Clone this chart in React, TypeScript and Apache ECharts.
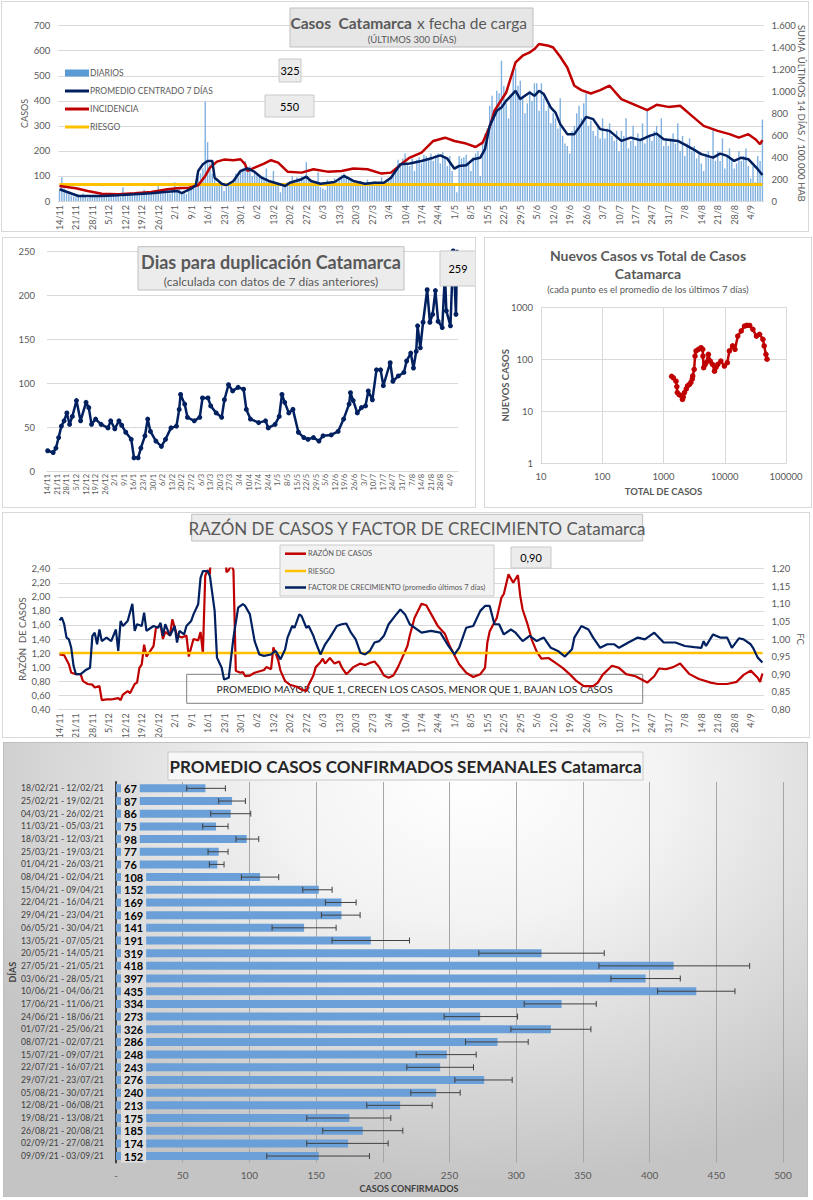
import React, { useEffect, useRef } from "react";
import * as echarts from "echarts";

// ---------- shared categories ----------
const START = Date.UTC(2020, 10, 14);
const NDAYS = 300;
const DATES: string[] = Array.from({ length: NDAYS }, (_, i) => {
  const d = new Date(START + i * 86400000);
  return `${d.getUTCDate()}/${d.getUTCMonth() + 1}`;
});

// ---------- chart 1: Casos Catamarca x fecha de carga ----------
const DIARIOS: number[] = [
  40, 95, 50, 38, 30, 22, 18,
  15, 25, 20, 30, 18, 12, 22,
  20, 18, 25, 22, 15, 20, 28,
  18, 30, 25, 20, 22, 15, 55,
  20, 28, 30, 22, 25, 30, 35,
  28, 45, 32, 25, 30, 35, 28,
  70, 40, 30, 38, 45, 30, 40,
  75, 45, 50, 30, 35, 28, 40,
  55, 62, 70, 95, 110, 130, 397,
  235, 150, 110, 90, 60, 70, 65,
  40, 55, 70, 65, 80, 110, 95,
  115, 130, 160, 125, 140, 100, 120,
  110, 95, 100, 90, 130, 80, 75,
  120, 70, 60, 35, 55, 65, 75,
  80, 100, 85, 95, 90, 100, 85,
  155, 90, 80, 70, 60, 115, 55,
  50, 45, 85, 70, 80, 90, 75,
  95, 105, 110, 100, 85, 90, 80,
  60, 75, 80, 70, 65, 85, 75,
  60, 80, 75, 70, 95, 65, 85,
  90, 100, 120, 130, 165, 150, 170,
  190, 150, 140, 170, 120, 165, 175,
  150, 185, 180, 170, 190, 160, 185,
  190, 150, 195, 175, 140, 180, 120,
  60, 35, 180, 170, 175, 185, 150,
  120, 175, 190, 200, 100, 230, 270,
  290, 380, 420, 340, 440, 430, 560,
  460, 390, 330, 420, 525, 530, 460,
  480, 420, 350, 390, 440, 400, 470,
  470, 360, 470, 410, 360, 380, 310,
  350, 330, 290, 410, 260, 230, 220,
  190, 280, 300, 350, 380, 330, 390,
  430, 300, 320, 280, 260, 300, 250,
  330, 250, 290, 310, 260, 240, 280,
  200, 280, 260, 330, 210, 240, 300,
  220, 270, 250, 310, 230, 360, 260,
  240, 280, 300, 260, 330, 220, 250,
  220, 250, 270, 230, 310, 200, 260,
  180, 230, 250, 200, 220, 170, 190,
  150, 120, 190, 200, 170, 290, 160,
  200, 160, 250, 130, 180, 210, 170,
  130, 150, 200, 160, 180, 210, 140,
  90, 140, 75, 180, 160, 325,
];

// [day index, value] – promedio centrado 7 días (left axis)
const PROMEDIO: [number, number][] = [
  [0, 47], [3, 37], [8, 20], [12, 20], [18, 20], [25, 23], [32, 27], [39, 31], [46, 37], [50, 40],
  [52, 31], [56, 49], [58, 63], [59, 120], [61, 147], [63, 160], [65, 160], [66, 93], [69, 69], [71, 63],
  [74, 80], [77, 120], [80, 130], [83, 116], [86, 93], [89, 80], [93, 69], [96, 60], [98, 73], [103, 87],
  [105, 97], [107, 80], [111, 69], [117, 76], [121, 100], [125, 80], [130, 69], [134, 73], [138, 73], [141, 93],
  [145, 147], [149, 150], [154, 160], [159, 173], [162, 182], [165, 169], [168, 129], [170, 140], [173, 143], [176, 167],
  [179, 173], [181, 207], [183, 300], [186, 360], [188, 373], [190, 400], [194, 440], [196, 407], [200, 433], [202, 420],
  [204, 440], [206, 427], [209, 373], [211, 353], [213, 307], [216, 267], [219, 267], [222, 307], [224, 336], [227, 327],
  [230, 287], [234, 280], [239, 240], [243, 253], [247, 243], [251, 260], [254, 269], [257, 247], [263, 240], [267, 220],
  [270, 204], [273, 187], [278, 173], [281, 189], [284, 180], [287, 160], [290, 173], [293, 167], [295, 147], [297, 127],
  [299, 104],
];

// [day index, value] – incidencia (right axis)
const INCIDENCIA: [number, number][] = [
  [0, 137], [3, 128], [7, 116], [12, 91], [18, 67], [25, 61], [32, 70], [39, 82], [46, 107], [50, 116],
  [55, 122], [59, 143], [62, 229], [64, 305], [67, 359], [70, 378], [74, 372], [77, 381], [79, 335], [80, 274],
  [83, 305], [87, 341], [90, 372], [93, 350], [97, 268], [103, 259], [108, 290], [114, 268], [120, 274], [125, 296],
  [131, 290], [137, 250], [141, 259], [145, 330], [149, 396], [154, 442], [159, 548], [164, 578], [168, 548], [173, 524],
  [177, 493], [180, 533], [183, 677], [185, 823], [190, 990], [194, 1265], [197, 1326], [200, 1356], [202, 1387], [204, 1433],
  [208, 1417], [210, 1401], [213, 1316], [216, 1219], [219, 1052], [222, 1012], [226, 981], [230, 1012], [234, 1052], [239, 930],
  [244, 884], [250, 829], [254, 878], [259, 859], [264, 869], [269, 777], [274, 686], [280, 640], [285, 610], [289, 578],
  [293, 610], [296, 564], [298, 518], [299, 555],
];
const RIESGO_INCIDENCIA = 150;

// ---------- chart 2: días para duplicación ----------
const DUPLICACION: [number, number][] = [
  [0, 23], [4, 21], [6, 26], [8, 38], [10, 51], [12, 57], [14, 66], [16, 53], [18, 62], [21, 80],
  [24, 57], [28, 78], [30, 72], [32, 53], [35, 59], [39, 53], [44, 49], [46, 57], [49, 48], [52, 57],
  [54, 52], [57, 44], [61, 36], [63, 15], [66, 15], [68, 26], [71, 40], [73, 59], [75, 45], [79, 34],
  [83, 28], [86, 36], [90, 49], [94, 51], [96, 70], [97, 87], [100, 76], [102, 61], [107, 57], [111, 61],
  [113, 83], [117, 83], [119, 74], [123, 66], [127, 61], [129, 81], [132, 98], [135, 91], [139, 95], [143, 93],
  [145, 70], [148, 59], [154, 55], [159, 57], [161, 49], [166, 53], [169, 62], [171, 87], [173, 78], [176, 66],
  [179, 70], [183, 44], [187, 38], [190, 36], [194, 38], [198, 34], [201, 40], [207, 41], [212, 45], [216, 59],
  [220, 76], [221, 89], [223, 80], [226, 66], [229, 72], [232, 74], [234, 91], [237, 81], [240, 115], [243, 115],
  [245, 97], [250, 123], [252, 102], [256, 108], [260, 112], [262, 125], [265, 134], [267, 117], [269, 136], [270, 165],
  [272, 140], [274, 169], [277, 206], [279, 169], [281, 178], [283, 205], [285, 170], [288, 163], [290, 225], [291, 182],
  [294, 165], [296, 250], [298, 178], [299, 259],
];

// ---------- chart 3: nuevos casos vs total ----------
// [total de casos, nuevos casos]
const NUEVOS_VS_TOTAL: [number, number][] = [
  [1358, 47], [1450, 44], [1600, 38], [1650, 30], [1680, 23], [1800, 21], [1940, 20], [2040, 17], [2100, 19], [2200, 23],
  [2350, 27], [2470, 31], [2650, 33], [2800, 36], [2950, 42], [3000, 48], [3170, 64], [3270, 115], [3400, 144], [3710, 155],
  [4100, 166], [4370, 155], [4400, 115], [4520, 69], [4750, 78], [4950, 86], [5400, 124], [5800, 92], [6300, 80], [6800, 59],
  [7200, 70], [7700, 80], [8640, 92], [9870, 74], [11000, 86], [11900, 144], [13400, 180], [14700, 155], [16300, 277], [18600, 349],
  [21000, 432], [23000, 445], [25500, 443], [28800, 373], [32900, 277], [37000, 300], [42000, 241], [44000, 180], [47000, 124], [49000, 100],
];

// ---------- chart 4: razón de casos y factor de crecimiento ----------
const RAZON: [number, number][] = [
  [0, 1.18], [2, 1.17], [4, 1.04], [5, 0.92], [7, 0.9], [9, 0.9], [10, 0.8], [12, 0.76], [14, 0.75], [15, 0.71],
  [17, 0.73], [18, 0.53], [20, 0.54], [22, 0.54], [25, 0.56], [26, 0.53], [27, 0.61], [29, 0.66], [30, 0.63], [32, 0.76],
  [33, 0.78], [34, 0.99], [35, 1.04], [36, 1.32], [37, 1.15], [40, 1.3], [41, 1.55], [43, 1.6], [44, 1.4], [45, 1.5],
  [47, 1.45], [48, 1.68], [50, 1.45], [52, 1.42], [54, 1.45], [55, 1.15], [57, 1.4], [59, 1.38], [60, 1.5], [61, 1.2],
  [62, 2.3], [63, 2.38], [64, 2.32], [65, 3.2], [66, 3.5], [68, 3.6], [70, 3.3], [71, 2.35], [72, 2.38], [73, 2.45],
  [74, 2.38], [75, 0.95], [77, 0.92], [78, 0.93], [79, 0.87], [81, 0.88], [83, 0.92], [87, 0.96], [88, 1.0], [90, 0.97],
  [91, 1.28], [93, 1.1], [94, 0.95], [96, 0.8], [98, 0.75], [101, 0.72], [103, 0.68], [105, 0.66], [106, 0.75], [108, 0.88],
  [109, 1.0], [111, 1.07], [112, 1.12], [113, 1.05], [115, 1.13], [117, 1.05], [119, 1.08], [120, 1.0], [122, 0.9], [123, 0.93],
  [125, 1.0], [128, 1.05], [130, 1.03], [132, 1.06], [134, 1.08], [136, 1.0], [138, 0.88], [140, 0.85], [142, 0.88], [144, 1.0],
  [146, 1.15], [148, 1.3], [149, 1.45], [151, 1.7], [154, 1.9], [156, 1.88], [159, 1.7], [161, 1.58], [164, 1.47], [166, 1.3],
  [168, 1.17], [170, 1.04], [173, 0.92], [176, 0.86], [179, 0.9], [181, 0.99], [182, 1.35], [183, 1.51], [186, 1.7], [188, 1.99],
  [189, 2.04], [191, 2.32], [193, 2.2], [195, 2.31], [196, 2.01], [197, 1.82], [199, 1.62], [201, 1.38], [203, 1.22], [205, 1.12],
  [208, 1.13], [211, 1.06], [214, 0.99], [217, 0.9], [220, 0.8], [223, 0.73], [227, 0.73], [229, 0.78], [231, 0.89], [235, 1.02],
  [238, 0.99], [241, 0.9], [245, 0.87], [250, 0.78], [253, 0.87], [255, 0.98], [258, 0.97], [261, 1.0], [264, 1.05], [268, 0.9],
  [272, 0.83], [277, 0.78], [280, 0.76], [284, 0.76], [288, 0.79], [291, 0.89], [294, 0.95], [297, 0.85], [298, 0.79], [299, 0.91],
];
const FACTOR: [number, number][] = [
  [0, 1.053], [1, 1.061], [2, 1.042], [3, 1.004], [4, 0.999], [5, 0.975], [6, 0.923], [7, 0.9], [9, 0.9], [11, 0.911],
  [13, 0.918], [14, 1.009], [15, 1.018], [16, 0.985], [17, 1.027], [18, 0.994], [20, 1.004], [22, 0.994], [24, 1.027], [25, 0.966],
  [26, 1.051], [27, 1.037], [29, 1.051], [31, 1.1], [32, 1.023], [33, 1.042], [35, 1.037], [36, 1.075], [37, 1.023], [40, 1.037],
  [42, 1.032], [43, 1.046], [44, 1.009], [45, 1.042], [47, 1.009], [49, 1.037], [50, 0.99], [51, 1.023], [53, 1.013], [54, 1.037],
  [56, 1.051], [57, 1.07], [59, 1.099], [60, 1.174], [61, 1.193], [63, 1.193], [64, 1.179], [66, 1.08], [67, 0.947], [69, 0.918],
  [70, 0.885], [72, 0.89], [73, 0.947], [74, 1.004], [76, 1.089], [78, 1.099], [79, 1.094], [81, 1.07], [83, 0.994], [85, 0.956],
  [87, 0.952], [90, 0.956], [92, 0.966], [94, 0.942], [96, 0.971], [97, 1.004], [99, 1.037], [100, 1.032], [102, 1.07], [103, 1.065],
  [105, 1.032], [106, 1.037], [108, 1.009], [109, 0.99], [111, 0.956], [113, 0.985], [115, 1.004], [118, 1.037], [120, 1.042], [122, 1.044],
  [124, 1.018], [126, 0.999], [128, 0.961], [130, 0.956], [132, 0.966], [134, 0.99], [136, 0.994], [138, 1.009], [140, 1.042], [143, 1.068],
  [145, 1.084], [147, 1.07], [149, 1.042], [154, 1.018], [158, 1.023], [162, 1.018], [165, 0.985], [168, 0.956], [170, 0.975], [173, 1.032],
  [176, 1.037], [179, 1.08], [181, 1.094], [183, 1.094], [185, 1.042], [187, 1.042], [189, 1.013], [192, 1.027], [194, 1.018], [197, 0.994],
  [200, 1.009], [203, 0.994], [206, 1.004], [209, 0.975], [212, 0.966], [215, 0.95], [218, 0.971], [219, 1.004], [222, 1.037], [225, 1.027],
  [227, 1.004], [230, 0.975], [233, 0.985], [236, 0.985], [238, 0.975], [242, 0.99], [246, 1.004], [249, 0.999], [253, 1.018], [257, 0.99],
  [262, 0.99], [266, 0.98], [270, 0.977], [273, 0.975], [274, 0.994], [275, 0.98], [278, 1.013], [281, 1.004], [284, 1.004], [286, 0.975],
  [289, 1.002], [291, 0.999], [294, 0.985], [295, 0.975], [297, 0.947], [299, 0.933],
];
const RIESGO_RAZON = 1.2;

// ---------- chart 5: promedio casos confirmados semanales ----------
const SEMANAS: string[] = [
  "18/02/21 - 12/02/21", "25/02/21 - 19/02/21", "04/03/21 - 26/02/21", "11/03/21 - 05/03/21", "18/03/21 - 12/03/21",
  "25/03/21 - 19/03/21", "01/04/21 - 26/03/21", "08/04/21 - 02/04/21", "15/04/21 - 09/04/21", "22/04/21 - 16/04/21",
  "29/04/21 - 23/04/21", "06/05/21 - 30/04/21", "13/05/21 - 07/05/21", "20/05/21 - 14/05/21", "27/05/21 - 21/05/21",
  "03/06/21 - 28/05/21", "10/06/21 - 04/06/21", "17/06/21 - 11/06/21", "24/06/21 - 18/06/21", "01/07/21 - 25/06/21",
  "08/07/21 - 02/07/21", "15/07/21 - 09/07/21", "22/07/21 - 16/07/21", "29/07/21 - 23/07/21", "05/08/21 - 30/07/21",
  "12/08/21 - 06/08/21", "19/08/21 - 13/08/21", "26/08/21 - 20/08/21", "02/09/21 - 27/08/21", "09/09/21 - 03/09/21",
];
const PROMEDIO_SEMANAL: number[] = [67, 87, 86, 75, 98, 77, 76, 108, 152, 169, 169, 141, 191, 319, 418, 397, 435, 334, 273, 326, 286, 248, 243, 276, 240, 213, 175, 185, 174, 152];
const ERROR_MIN: number[] = [53, 77, 71, 65, 90, 69, 70, 94, 140, 157, 154, 117, 162, 272, 362, 371, 406, 306, 246, 296, 262, 225, 218, 254, 221, 188, 143, 155, 143, 113];
const ERROR_MAX: number[] = [82, 97, 101, 84, 107, 84, 81, 122, 162, 180, 183, 165, 220, 366, 475, 423, 464, 360, 301, 356, 309, 270, 268, 297, 258, 237, 206, 215, 204, 190];

// ---------- styling ----------
const FONT = 'Lato, "Liberation Sans", sans-serif';
const GRAY = "#595959";
const GRID = "#d9d9d9";
const NAVY = "#002060";
const RED = "#c00000";
const YELLOW = "#ffc000";
const BLUE = "#5b9bd5";

const thousands = (v: number) =>
  v >= 1000 ? `${Math.floor(v / 1000)}.${String(v % 1000).padStart(3, "0")}` : String(v);
const comma2 = (v: number) => v.toFixed(2).replace(".", ",");
const plain = (v: number) => String(Math.round(v));

const box = (x: number, y: number, w: number, h: number, fill = "#e8e8e8", stroke = "#bfbfbf") => ({
  type: "rect",
  shape: { x, y, width: w, height: h },
  style: { fill, stroke, lineWidth: 1 },
  z: 50,
});
const label = (x: number, y: number, text: string, size: number, opts: any = {}) => ({
  type: "text",
  x,
  y,
  z: 51,
  style: {
    text,
    font: `${opts.weight || "normal"} ${size}px ${FONT}`,
    fill: opts.color || GRAY,
    textAlign: opts.align || "center",
    textVerticalAlign: "middle",
  },
});
const legLine = (x: number, y: number, color: string, w = 24, lw = 3) => ({
  type: "line",
  shape: { x1: x, y1: y, x2: x + w, y2: y },
  style: { stroke: color, lineWidth: lw },
  z: 51,
});

const dateAxis = (fontSize: number, margin = 4) => ({
  type: "category",
  data: DATES,
  axisTick: { show: false },
  axisLine: { lineStyle: { color: GRID } },
  axisLabel: { interval: 6, rotate: 90, fontSize, color: GRAY, margin, fontFamily: FONT },
});

const option1 = {
  animation: false,
  textStyle: { fontFamily: FONT },
  grid: { left: 56.3, top: 23.7, width: 705.3, height: 175.3, outerBoundsMode: "none" },
  xAxis: dateAxis(9),
  yAxis: [
    {
      type: "value", min: 0, max: 700, interval: 100,
      name: "CASOS", nameLocation: "middle", nameGap: 29, nameMoveOverlap: false,
      nameTextStyle: { color: GRAY, fontSize: 9 },
      axisLabel: { color: GRAY, fontSize: 9.5 },
      splitLine: { lineStyle: { color: GRID } },
    },
    {
      type: "value", min: 0, max: 1600, interval: 200, position: "right",
      name: "SUMA  ÚLTIMOS 14 DÍAS / 100.000 HAB", nameLocation: "middle", nameRotate: -90, nameGap: 33, nameMoveOverlap: false,
      nameTextStyle: { color: GRAY, fontSize: 9.5 },
      axisLabel: { color: GRAY, fontSize: 9.5, formatter: thousands },
      splitLine: { show: false },
    },
  ],
  series: [
    { name: "DIARIOS", type: "bar", data: DIARIOS, barWidth: 1.4, itemStyle: { color: "#7fb0e0" } },
    { name: "RIESGO", type: "line", yAxisIndex: 1, data: [[0, RIESGO_INCIDENCIA], [NDAYS - 1, RIESGO_INCIDENCIA]], symbol: "none", lineStyle: { color: YELLOW, width: 3 } },
    { name: "INCIDENCIA", type: "line", yAxisIndex: 1, data: INCIDENCIA, symbol: "none", lineStyle: { color: RED, width: 2.5 } },
    { name: "PROMEDIO CENTRADO 7 DÍAS", type: "line", yAxisIndex: 0, data: PROMEDIO, symbol: "none", lineStyle: { color: NAVY, width: 2.5 } },
  ],
  graphic: [
    box(288, 6, 243, 39, "#e6e6e6"),
    label(410, 21, "Casos  Catamarca", 15.5, { weight: "bold", align: "right" }),
    label(415, 21, "x fecha de carga", 15.5, { align: "left" }),
    label(410, 37, "(ÚLTIMOS 300 DÍAS)", 9.5),
    box(277, 57, 22, 23, "#ececec", "#c9c9c9"),
    label(288, 68.5, "325", 11, { color: "#000" }),
    box(263, 93, 49, 22, "#ececec", "#c9c9c9"),
    label(287.5, 104, "550", 11, { color: "#000" }),
    { type: "rect", shape: { x: 63, y: 67.5, width: 24, height: 7 }, style: { fill: BLUE }, z: 51 },
    label(88, 71, "DIARIOS", 8.5, { align: "left" }),
    legLine(63, 89, NAVY),
    label(88, 89, "PROMEDIO CENTRADO 7 DÍAS", 8.5, { align: "left" }),
    legLine(63, 107, RED),
    label(88, 107, "INCIDENCIA", 8.5, { align: "left" }),
    legLine(63, 125, YELLOW),
    label(88, 125, "RIESGO", 8.5, { align: "left" }),
  ],
};

const option2 = {
  animation: false,
  textStyle: { fontFamily: FONT },
  grid: { left: 44, top: 13, width: 411, height: 220, outerBoundsMode: "none" },
  xAxis: dateAxis(7.5, 3),
  yAxis: {
    type: "value", min: 0, max: 250, interval: 50,
    axisLabel: { color: GRAY, fontSize: 9.5, margin: 12 },
    splitLine: { lineStyle: { color: GRID } },
  },
  series: [
    {
      type: "line", data: DUPLICACION, symbol: "circle", symbolSize: 5, showAllSymbol: true,
      itemStyle: { color: NAVY }, lineStyle: { color: NAVY, width: 2.5 },
    },
  ],
  graphic: [
    box(135, 8.7, 266, 43.3, "#ececec"),
    label(268, 24, "Dias para duplicación Catamarca", 18, { weight: "bold" }),
    label(268, 43, "(calculada con datos de 7 días anteriores)", 12),
    box(437, 13, 36, 35, "#ececec", "#c9c9c9"),
    label(455, 30.5, "259", 11, { color: "#000" }),
  ],
};

const option3 = {
  animation: false,
  textStyle: { fontFamily: FONT },
  grid: { left: 56, top: 69, width: 245, height: 156.7, outerBoundsMode: "none" },
  xAxis: {
    type: "log", logBase: 10, min: 10, max: 100000,
    name: "TOTAL DE CASOS", nameLocation: "middle", nameGap: 23, nameMoveOverlap: false,
    nameTextStyle: { color: GRAY, fontSize: 9.5, fontWeight: "bold" },
    axisTick: { show: false },
    axisLine: { lineStyle: { color: GRID } },
    axisLabel: { color: GRAY, fontSize: 9.5, formatter: plain },
    splitLine: { show: true, lineStyle: { color: GRID } },
  },
  yAxis: {
    type: "log", logBase: 10, min: 1, max: 1000,
    name: "NUEVOS CASOS", nameLocation: "middle", nameGap: 31, nameMoveOverlap: false,
    nameTextStyle: { color: GRAY, fontSize: 9.5, fontWeight: "bold" },
    axisTick: { show: false },
    axisLine: { show: false },
    axisLabel: { color: GRAY, fontSize: 9.5, formatter: plain },
    splitLine: { show: true, lineStyle: { color: GRID } },
  },
  series: [
    {
      type: "line", data: NUEVOS_VS_TOTAL, symbol: "circle", symbolSize: 5.5, showAllSymbol: true,
      itemStyle: { color: RED }, lineStyle: { color: RED, width: 2.5 },
    },
  ],
  graphic: [
    label(163, 17, "Nuevos Casos vs Total de Casos", 14, { weight: "bold" }),
    label(163, 35, "Catamarca", 14, { weight: "bold" }),
    label(163, 51, "(cada punto es el promedio de los últimos 7 días)", 9.5),
  ],
};

const option4 = {
  animation: false,
  textStyle: { fontFamily: FONT },
  grid: { left: 55.3, top: 55.7, width: 705.3, height: 140.6, outerBoundsMode: "none" },
  xAxis: dateAxis(9),
  yAxis: [
    {
      type: "value", min: 0.4, max: 2.4, interval: 0.2,
      name: "RAZÓN  DE CASOS", nameLocation: "middle", nameGap: 31, nameMoveOverlap: false,
      nameTextStyle: { color: GRAY, fontSize: 9.5 },
      axisLabel: { color: GRAY, fontSize: 9.5, formatter: comma2 },
      splitLine: { lineStyle: { color: GRID } },
    },
    {
      type: "value", min: 0.8, max: 1.2, interval: 0.05, position: "right",
      name: "FC", nameLocation: "middle", nameRotate: -90, nameGap: 32, nameMoveOverlap: false,
      nameTextStyle: { color: GRAY, fontSize: 9.5 },
      axisLabel: { color: GRAY, fontSize: 9.5, formatter: comma2 },
      splitLine: { show: false },
    },
  ],
  series: [
    { name: "RAZÓN DE CASOS", type: "line", yAxisIndex: 0, data: RAZON, symbol: "none", lineStyle: { color: RED, width: 2.2 } },
    { name: "RIESGO", type: "line", yAxisIndex: 0, data: [[0, RIESGO_RAZON], [NDAYS - 1, RIESGO_RAZON]], symbol: "none", lineStyle: { color: YELLOW, width: 2.5 } },
    { name: "FACTOR DE CRECIMIENTO", type: "line", yAxisIndex: 1, data: FACTOR, symbol: "none", lineStyle: { color: NAVY, width: 2.2 } },
  ],
  graphic: [
    box(188.7, 1.3, 451, 26.7, "#ececec"),
    label(414, 15, "RAZÓN DE CASOS Y FACTOR DE CRECIMIENTO Catamarca", 17),
    box(277, 32, 214, 51, "#f2f2f2", "#c9c9c9"),
    legLine(282, 40.7, RED, 21, 2.5),
    label(305, 40.7, "RAZÓN DE CASOS", 7.5, { align: "left" }),
    legLine(282, 58, YELLOW, 21, 2.5),
    label(305, 58, "RIESGO", 7.5, { align: "left" }),
    legLine(282, 74.5, NAVY, 21, 2.5),
    label(305, 74.5, "FACTOR DE CRECIMIENTO (promedio últimos 7 días)", 7.5, { align: "left" }),
    box(508, 34, 40, 21, "#ececec", "#c9c9c9"),
    label(528, 44.5, "0,90", 11, { color: "#000" }),
    { type: "rect", shape: { x: 183.7, y: 161.3, width: 456, height: 29 }, style: { fill: "rgba(255,255,255,0)", stroke: "#7f7f7f", lineWidth: 1 }, z: 1 },
    { ...label(411.7, 176, "PROMEDIO MAYOR QUE 1, CRECEN LOS CASOS, MENOR QUE 1, BAJAN LOS CASOS", 10.2, { color: "#262626" }), z: 1 },
  ],
};

const option5 = {
  animation: false,
  textStyle: { fontFamily: FONT },
  grid: { left: 112, top: 39, width: 667, height: 380.4, outerBoundsMode: "none" },
  xAxis: {
    type: "value", min: 0, max: 500, interval: 50,
    axisLine: { show: false },
    axisTick: { show: false },
    axisLabel: { color: GRAY, fontSize: 10, margin: 8, formatter: (v: number) => (v === 0 ? "-" : String(v)) },
    splitLine: { lineStyle: { color: "#a6a6a6" } },
  },
  yAxis: {
    type: "category", data: SEMANAS, inverse: true,
    name: "DÍAS", nameLocation: "middle", nameGap: 99, nameMoveOverlap: false,
    nameTextStyle: { color: "#404040", fontSize: 9, fontWeight: "bold" },
    axisTick: { show: false },
    axisLine: { lineStyle: { color: "#404040", width: 2 } },
    axisLabel: { color: "#404040", fontSize: 8.6, margin: 12, interval: 0 },
  },
  series: [
    {
      type: "bar", data: PROMEDIO_SEMANAL, barWidth: 8,
      itemStyle: { color: "#6a9fd8" },
      label: {
        show: true, position: "insideLeft", distance: 5,
        formatter: "{c}", color: "#000", fontWeight: "bold", fontSize: 11,
        backgroundColor: "#dedede", padding: [1, 3, 1, 3],
      },
    },
    {
      type: "custom",
      data: PROMEDIO_SEMANAL.map((_, i) => [i, ERROR_MIN[i], ERROR_MAX[i]]),
      encode: { y: 0, x: [1, 2] },
      z: 5,
      renderItem: (_params: any, api: any) => {
        const idx = api.value(0);
        const lo = api.coord([api.value(1), idx]);
        const hi = api.coord([api.value(2), idx]);
        const h = 3;
        const st = { stroke: "#404040", lineWidth: 1 };
        return {
          type: "group",
          children: [
            { type: "line", shape: { x1: lo[0], y1: lo[1], x2: hi[0], y2: hi[1] }, style: st },
            { type: "line", shape: { x1: lo[0], y1: lo[1] - h, x2: lo[0], y2: lo[1] + h }, style: st },
            { type: "line", shape: { x1: hi[0], y1: hi[1] - h, x2: hi[0], y2: hi[1] + h }, style: st },
          ],
        };
      },
    },
  ],
  graphic: [
    box(164, 9, 475, 28, "#f7f7f7", "#c9c9c9"),
    label(401.5, 23.5, "PROMEDIO CASOS CONFIRMADOS SEMANALES Catamarca", 17, { weight: "bold", color: "#262626" }),
    label(405, 445, "CASOS CONFIRMADOS", 9, { weight: "bold", color: "#404040" }),
  ],
};

function Chart({ option, style }: { option: any; style: React.CSSProperties }) {
  const ref = useRef<HTMLDivElement>(null);
  useEffect(() => {
    if (!ref.current) return;
    const chart = echarts.init(ref.current, undefined, { renderer: "svg" });
    chart.setOption(option);
    return () => chart.dispose();
  }, [option]);
  return <div ref={ref} style={{ position: "absolute", boxSizing: "border-box", ...style }} />;
}

export default function App() {
  useEffect(() => {
    document.body.style.margin = "0";
  }, []);
  const panel = { border: "1px solid #d9d9d9", background: "#fff" };
  return (
    <div style={{ position: "absolute", left: 0, top: 0, width: 813, height: 1200, background: "#fff", overflow: "hidden" }}>
      <Chart option={option1} style={{ ...panel, left: 1, top: 1, width: 808, height: 231 }} />
      <Chart option={option2} style={{ ...panel, left: 2, top: 237, width: 474, height: 271 }} />
      <Chart option={option3} style={{ ...panel, left: 484, top: 237, width: 328, height: 271 }} />
      <Chart option={option4} style={{ ...panel, left: 2, top: 512, width: 808, height: 226 }} />
      <Chart
        option={option5}
        style={{
          left: 3, top: 742, width: 805, height: 455,
          border: "1px solid #bfbfbf",
          background: "radial-gradient(ellipse 70% 90% at 58% 8%, #ffffff 0%, #f3f3f3 35%, #d6d6d6 75%, #c4c4c4 100%)",
        }}
      />
    </div>
  );
}
